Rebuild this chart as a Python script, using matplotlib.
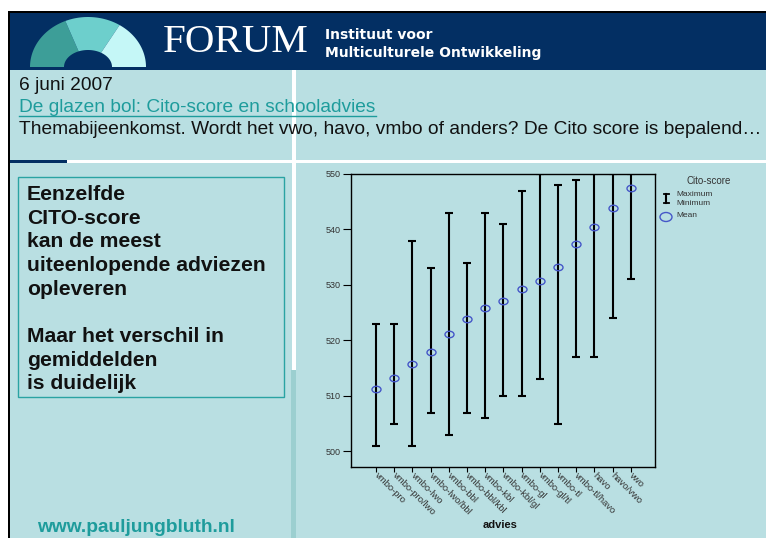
import numpy as np
import matplotlib
matplotlib.use('Agg')
import matplotlib.pyplot as plt
from matplotlib.patches import Rectangle, Polygon, Ellipse
from matplotlib.path import Path
from matplotlib.transforms import Affine2D


### Data

advies = ['vmbo-pro', 'vmbo-pro/lwo', 'vmbo-lwo', 'vmbo-lwo/bbl', 'vmbo-bbl',
          'vmbo-bbl/kbl', 'vmbo-kbl', 'vmbo-kbl/gl', 'vmbo-gl', 'vmbo-gl/tl',
          'vmbo-tl', 'vmbo-tl/havo', 'havo', 'havo/vwo', 'vwo']
cito_mean = [511.2, 513.3, 515.8, 518.0, 521.1, 523.8, 525.9, 527.1, 529.3,
             530.8, 533.2, 537.4, 540.5, 543.8, 547.5]
cito_min = [501, 505, 501, 507, 503, 507, 506, 510, 510, 513, 505, 517, 517, 524, 531]
cito_max = [523, 523, 538, 533, 543, 534, 543, 541, 547, 550, 548, 549, 550, 550, 550]
y_ticks = [500, 510, 520, 530, 540, 550]


### Colours

BG = '#b9dfe2'
NAVY = '#032f63'
TEAL = '#1e9c9c'
MEAN_BLUE = '#4557c8'
TICK_GREY = '#333333'

W, H = 766, 538

fig = plt.figure(figsize=(W / 100, H / 100), dpi=100, facecolor='white')

# overlay in pixel coordinates for the slide decoration
bg = fig.add_axes([0, 0, 1, 1], zorder=0)
bg.set_xlim(0, W)
bg.set_ylim(H, 0)
bg.axis('off')

bg.add_patch(Rectangle((10, 70), W - 10, H - 70, color=BG, lw=0))
bg.add_patch(Rectangle((8, 11), W - 8, 59, color=NAVY, lw=0))
bg.add_patch(Rectangle((8, 11), W - 8, 1.5, color='black', lw=0))
bg.add_patch(Rectangle((8, 11), 2, H - 11, color='black', lw=0))
bg.add_patch(Rectangle((67, 160), W - 67, 3, color='white', lw=0))
bg.add_patch(Rectangle((10, 160), 57, 3, color=NAVY, lw=0))
bg.add_patch(Rectangle((291.5, 70), 4, 300, color='white', lw=0))
bg.add_patch(Rectangle((291, 370), 5, H - 370, color='#9ccfd0', lw=0))


## Logo (half-ring in three parts)

def ring_part(t1, t2, cx=88, cy=67, a=58, b=50, ai=24, bi=17):
    t = np.linspace(np.radians(t1), np.radians(t2), 40)
    outer = np.column_stack([cx + a * np.cos(t), cy - b * np.sin(t)])
    inner = np.column_stack([cx + ai * np.cos(t[::-1]), cy - bi * np.sin(t[::-1])])
    return Polygon(np.vstack([outer, inner]), closed=True, lw=0)

for (t1, t2), col in zip([(113, 180), (57, 113), (0, 57)],
                         ['#3d9e98', '#6dcfcc', '#c5f7f7']):
    p = ring_part(t1, t2)
    p.set_facecolor(col)
    bg.add_patch(p)

bg.text(163, 42, 'FORUM', color='white', fontsize=29.5, family='Liberation Serif',
        va='center', ha='left')
bg.text(325, 35, 'Instituut voor', color='white', fontsize=10, fontweight='bold',
        family='DejaVu Sans', va='center', ha='left')
bg.text(325, 53, 'Multiculturele Ontwikkeling', color='white', fontsize=10,
        fontweight='bold', family='DejaVu Sans', va='center', ha='left')


## Header texts

bg.text(19, 86, '6 juni 2007', fontsize=13.8, family='Liberation Sans',
        va='center', ha='left', color='#111111')
bg.text(19, 107, 'De glazen bol: Cito-score en schooladvies', fontsize=13.8,
        family='Liberation Sans', va='center', ha='left', color=TEAL)
bg.plot([19, 376], [116, 116], color=TEAL, lw=1)
bg.text(19, 129, 'Themabijeenkomst. Wordt het vwo, havo, vmbo of anders? '
        'De Cito score is bepalend\u2026', fontsize=13.8, family='Liberation Sans',
        va='center', ha='left', color='#111111')


## Left text box

bg.add_patch(Rectangle((18, 177), 266, 220, fill=False, edgecolor='#2aa3a3', lw=1))
bg.text(27, 185, 'Eenzelfde\nCITO-score\nkan de meest\nuiteenlopende adviezen\n'
        'opleveren\n\nMaar het verschil in\ngemiddelden\nis duidelijk',
        fontsize=15.2, fontweight='bold', family='Liberation Sans', va='top',
        ha='left', linespacing=1.31, color='#111111')
bg.text(37, 528, 'www.pauljungbluth.nl', fontsize=13.8, fontweight='bold',
        family='Liberation Sans', va='center', ha='left', color=TEAL)


## Chart

ax = fig.add_axes([351 / W, 1 - 467 / H, (655 - 351) / W, (467 - 174) / H],
                  zorder=2)
ax.set_facecolor('none')

x = np.arange(len(advies))
mean = np.array(cito_mean)
lower = mean - np.array(cito_min)
upper = np.array(cito_max) - mean

ax.errorbar(x, mean, yerr=[lower, upper], fmt='none', ecolor='black',
            elinewidth=1.5, capsize=3.2, capthick=1.5)

ellipse_marker = Path.unit_circle().transformed(Affine2D().scale(1, 0.72))
ax.plot(x, mean, linestyle='none', marker=ellipse_marker, markersize=6.5,
        markerfacecolor='none', markeredgecolor=MEAN_BLUE, markeredgewidth=1)

ax.set_xlim(-1.37, 15.33)
ax.set_ylim(497.2, 550)
ax.set_yticks(y_ticks)
ax.set_xticks(x)
ax.set_xticklabels(advies, rotation=-45, ha='left', va='center',
                   rotation_mode='anchor', fontsize=6.8, family='Liberation Sans',
                   color=TICK_GREY)
for lbl in ax.get_yticklabels():
    lbl.set_fontsize(6.5)
    lbl.set_family('Liberation Sans')
    lbl.set_color(TICK_GREY)
ax.tick_params(axis='y', length=5.5, width=0.8, pad=2, color='black')
ax.tick_params(axis='x', length=3.6, width=0.8, pad=1.5, color='black')
for s in ax.spines.values():
    s.set_linewidth(1)
    s.set_color('black')
ax.set_xlabel('advies', fontsize=8, fontweight='bold', family='Liberation Sans',
              color='#111111')
ax.xaxis.set_label_coords(0.49, -0.18)


## Legend (drawn by hand)

bg.text(709, 181, 'Cito-score', fontsize=7, family='Liberation Sans',
        va='center', ha='center', color=TICK_GREY)
bg.plot([666, 666], [194, 203], color='black', lw=1.5)
bg.plot([663.5, 668.5], [194, 194], color='black', lw=1.3)
bg.plot([663.5, 668.5], [203, 203], color='black', lw=1.3)
bg.text(676, 194.5, 'Maximum', fontsize=6, family='Liberation Sans',
        va='center', ha='left', color=TICK_GREY)
bg.text(676, 203.5, 'Minimum', fontsize=6, family='Liberation Sans',
        va='center', ha='left', color=TICK_GREY)
bg.add_patch(Ellipse((666, 217), 12, 9, fill=False, edgecolor=MEAN_BLUE, lw=1))
bg.text(676, 215.5, 'Mean', fontsize=6, family='Liberation Sans',
        va='center', ha='left', color=TICK_GREY)

fig.savefig('out.png', dpi=100, facecolor=fig.get_facecolor())
